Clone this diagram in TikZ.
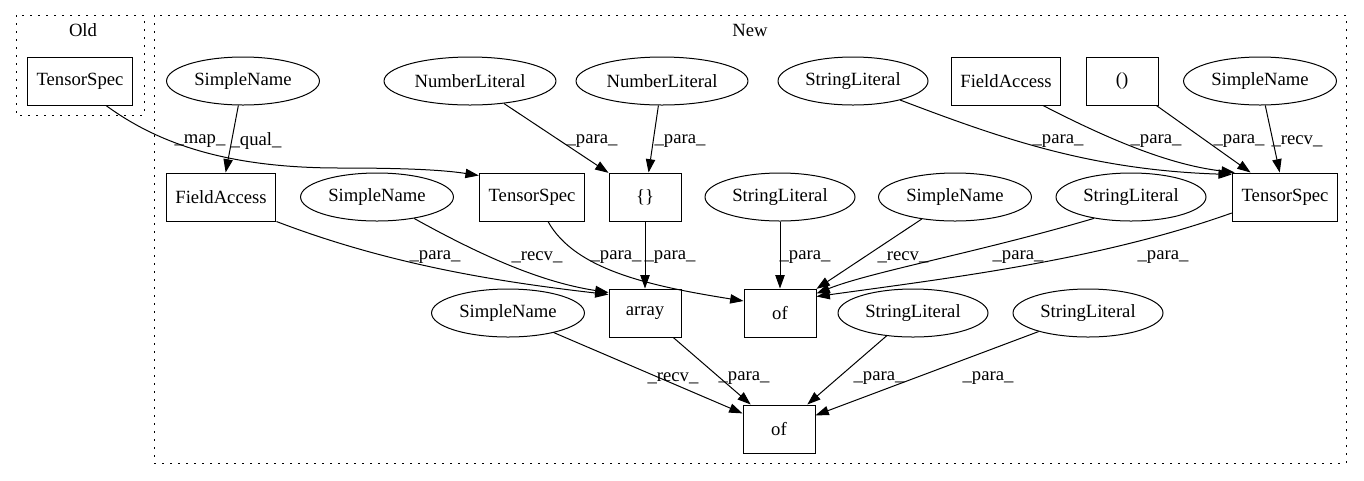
\documentclass[tikz,border=0pt]{standalone}
\usepackage{fontspec}
\setmainfont{Liberation Serif}
\usetikzlibrary{positioning,shapes.geometric,arrows.meta,calc}

\begin{document}
\begin{tikzpicture}[x=0.75pt,y=0.75pt,>={Triangle[length=10pt,width=7pt]}]
\tikzstyle{every node}+=[inner sep=0pt,font=\fontsize{14}{16}\selectfont]
\tikzstyle{astbox}=[draw,rectangle,line width=0.75pt,minimum width=54pt,minimum height=36pt,inner xsep=7pt]
\tikzstyle{astoval}=[draw,ellipse,line width=0.75pt,minimum height=36pt,inner xsep=4pt]
\tikzstyle{cluster}=[draw,line width=0.75pt,dash pattern=on 1.5pt off 4.5pt]
\tikzstyle{conn}=[->,line width=0.75pt]
\useasboundingbox (0,0) rectangle (1364,-480);
% clusters
\draw [cluster] (16,-15) rectangle (144,-115);
\draw [cluster] (154,-15) rectangle (1346,-463);
\node (oldlbl) at (83,-30) {Old};
\node (newlbl) at (750,-30) {New};
% old
\node [astbox] (oldspec) at (80,-81) {TensorSpec};
% new, top row
\node [astoval] (sn1) at (243,-81) {SimpleName};
\node [astoval] (nl1) at (470,-81) {NumberLiteral};
\node [astoval] (nl2) at (662,-81) {NumberLiteral};
\node [astoval] (sl1) at (853,-81) {StringLiteral};
\node [astbox] (fa1) at (1006,-81) {FieldAccess};
\node [astbox] (call1) at (1122,-81) {()};
\node [astoval] (sn2) at (1260,-81) {SimpleName};
% second row
\node [astbox] (fa2) at (221,-197) {FieldAccess};
\node [astoval] (sn3) at (377,-197) {SimpleName};
\node [astbox] (spec1) at (532,-197) {TensorSpec};
\node [astbox] (braces) at (645,-197) {\{\}};
\node [astoval] (sl2) at (780,-197) {StringLiteral};
\node [astoval] (sn4) at (955,-197) {SimpleName};
\node [astoval] (sl3) at (1131,-197) {StringLiteral};
\node [astbox] (spec2) at (1285,-197) {TensorSpec};
% third row
\node [astoval] (sn5) at (508,-313) {SimpleName};
\node [astbox] (arr) at (645,-313) {array};
\node [astbox] (of1) at (780,-313) {of};
\node [astoval] (sl4) at (913,-313) {StringLiteral};
\node [astoval] (sl5) at (1088,-313) {StringLiteral};
% bottom
\node [astbox] (of2) at (779,-429) {of};
% edges into second row
\draw [conn] ($(oldspec.south)+(26,0)$) .. controls (160,-145) and (230,-168) .. (340,-168) .. controls (420,-168) and (450,-171) .. ($(spec1.north west)+(0,-3)$);
\node (lmap) at (200,-141) {\_map\_};
\draw [conn] (sn1) -- (fa2);
\node (lqual) at (256,-141) {\_qual\_};
\draw [conn] (nl1) -- (braces);
\node (lnla) at (592,-141) {\_para\_};
\draw [conn] (nl2) -- (braces);
\node (lnlb) at (680,-141) {\_para\_};
\draw [conn] (sl1.-22) .. controls (1000,-138) and (1090,-170) .. ($(spec2.north west)+(0,-2)$);
\node (lsla) at (1058,-141) {\_para\_};
\draw [conn] ($(fa1.south)+(37,0)$) .. controls (1110,-140) and (1170,-165) .. ($(spec2.north west)+(3,0)$);
\node (lfaa) at (1156,-141) {\_para\_};
\draw [conn] (call1) -- (spec2);
\node (lcall) at (1239,-141) {\_para\_};
\draw [conn] (sn2) -- (spec2);
\node (lsnb) at (1297,-141) {\_recv\_};
% edges into third row
\draw [conn] (fa2.south east) .. controls (390,-265) and (500,-282) .. ($(arr.north west)+(0,-6)$);
\node (lfab) at (435,-257) {\_para\_};
\draw [conn] (sn3.-30) .. controls (480,-255) and (540,-282) .. ($(arr.north west)+(0,-4)$);
\node (lsnc) at (537,-257) {\_recv\_};
\draw [conn] ($(spec1.south)+(16,0)$) .. controls (575,-270) and (650,-286) .. ($(of1.west)+(0,12)$);
\node (lspa) at (616,-257) {\_para\_};
\draw [conn] (braces) -- (arr);
\node (lbr) at (670,-257) {\_para\_};
\draw [conn] (sl2) -- (of1);
\node (lslb) at (805,-257) {\_para\_};
\draw [conn] (sn4) -- (of1);
\node (lsnd) at (903,-257) {\_recv\_};
\draw [conn] (sl3.-150) .. controls (980,-252) and (870,-272) .. ($(of1.north east)+(0,-5)$);
\node (lslc) at (1018,-257) {\_para\_};
\draw [conn] ($(spec2.west)+(0,-16)$) .. controls (1100,-260) and (950,-278) .. ($(of1.north east)+(0,-8)$);
\node (lspb) at (1163,-257) {\_para\_};
% edges into bottom
\draw [conn] (sn5) -- (of2);
\node (lsne) at (673,-378) {\_recv\_};
\draw [conn] (arr) -- (of2);
\node (larr) at (744,-378) {\_para\_};
\draw [conn] (sl4) -- (of2);
\node (lsld) at (879,-378) {\_para\_};
\draw [conn] (sl5) -- (of2);
\node (lsle) at (988,-378) {\_para\_};
\end{tikzpicture}
\end{document}
